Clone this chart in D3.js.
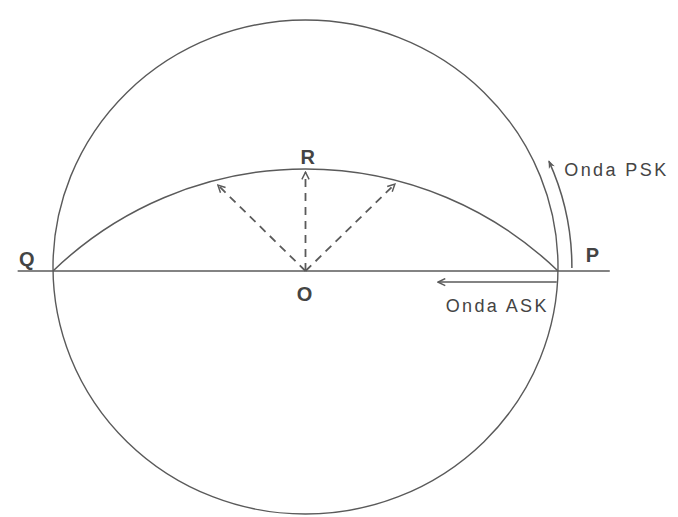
<!DOCTYPE html>
<html><head><meta charset="utf-8">
<script src="https://cdn.jsdelivr.net/npm/d3@7"></script>
<style>
html,body{margin:0;padding:0;background:#fff;}
svg{display:block;}
</style></head>
<body><svg id="c" width="678" height="517"></svg>
<script>
// Diagram data, in units of the circle radius (O at the origin)
const pointNames = ["Q", "R", "P", "O"];
const pointX = [-1, 0, 1, 0];
const pointY = [0, 0.413, 0, 0];
const circleCenter = [0, 0.016];
const circleRadius = 1;
const baseLine = [-1.14, 1.205];           // horizontal axis extent (x)
const vectorTipsX = [-0.347, 0, 0.354];    // dashed phasor tips
const vectorTipsY = [0.348, 0.40, 0.352];
const pskArc = { r: 1.055, startY: 0.012, endY: 0.445 };
const askArrow = { x0: 0.995, x1: 0.525, y: -0.045 };
const labelText = ["Q", "P", "R", "O", "Onda PSK", "Onda ASK"];
const labelX = [-1.135, 1.11, -0.02, -0.035, 1.025, 0.555];
const labelY = [0.02, 0.035, 0.435, -0.12, 0.385, -0.168];

const W = 678, H = 517;
const x = d3.scaleLinear().domain([-1, 1]).range([53, 558]);
const y = d3.scaleLinear().domain([-1, 1]).range([271 + 247, 271 - 247]);
const kx = x(1) - x(0), ky = y(0) - y(1);

const svg = d3.select("#c");
const ink = "#5a5a5a";

const defs = svg.append("defs");
defs.append("marker").attr("id", "open").attr("viewBox", "0 0 10 10")
  .attr("refX", 9).attr("refY", 5).attr("markerWidth", 9).attr("markerHeight", 9)
  .attr("markerUnits", "userSpaceOnUse").attr("orient", "auto")
  .append("path").attr("d", "M1,1 L9,5 L1,9").attr("fill", "none")
  .attr("stroke", ink).attr("stroke-width", 1.6);
defs.append("marker").attr("id", "filled").attr("viewBox", "0 0 10 10")
  .attr("refX", 9).attr("refY", 5).attr("markerWidth", 10).attr("markerHeight", 8)
  .attr("markerUnits", "userSpaceOnUse").attr("orient", "auto")
  .append("path").attr("d", "M0,1 L10,5 L0,9 L3,5 Z").attr("fill", ink);

// main circle (slightly elliptical in the reference scan)
svg.append("ellipse")
  .attr("cx", x(circleCenter[0])).attr("cy", y(circleCenter[1]))
  .attr("rx", kx * circleRadius).attr("ry", ky * circleRadius)
  .attr("fill", "none").attr("stroke", ink).attr("stroke-width", 1.4);

// horizontal axis
svg.append("line")
  .attr("x1", x(baseLine[0])).attr("x2", x(baseLine[1]))
  .attr("y1", y(0)).attr("y2", y(0))
  .attr("stroke", ink).attr("stroke-width", 1.6);

// arc Q - R - P (circle through three points)
const pts = pointNames.map((n, i) => ({ n, px: x(pointX[i]), py: y(pointY[i]) }));
const Q = pts[0], R = pts[1], P = pts[2];
const half = (P.px - Q.px) / 2, sag = Q.py - R.py;
const rad = (half * half + sag * sag) / (2 * sag);
svg.append("path")
  .attr("d", `M${Q.px},${Q.py} A${rad},${rad} 0 0 1 ${P.px},${P.py}`)
  .attr("fill", "none").attr("stroke", ink).attr("stroke-width", 1.5);

// dashed phasor arrows
svg.selectAll(".vec").data(vectorTipsX).join("line")
  .attr("x1", x(0)).attr("y1", y(0))
  .attr("x2", d => x(d)).attr("y2", (d, i) => y(vectorTipsY[i]))
  .attr("stroke", ink).attr("stroke-width", 1.8)
  .attr("stroke-dasharray", "8,6")
  .attr("marker-end", "url(#open)");

// PSK arc arrow (concentric with the circle)
const cx0 = x(circleCenter[0]), cy0 = y(circleCenter[1]);
const prx = kx * pskArc.r, pry = ky * pskArc.r;
function onArc(yy) {
  const py = y(yy);
  const t = (cy0 - py) / pry;
  return [cx0 + prx * Math.sqrt(1 - t * t), py];
}
const a0 = onArc(pskArc.startY), a1 = onArc(pskArc.endY);
svg.append("path")
  .attr("d", `M${a0[0]},${a0[1]} A${prx},${pry} 0 0 0 ${a1[0]},${a1[1]}`)
  .attr("fill", "none").attr("stroke", ink).attr("stroke-width", 1.5)
  .attr("marker-end", "url(#filled)");

// ASK arrow
svg.append("line")
  .attr("x1", x(askArrow.x0)).attr("x2", x(askArrow.x1))
  .attr("y1", y(askArrow.y)).attr("y2", y(askArrow.y))
  .attr("stroke", ink).attr("stroke-width", 1.5)
  .attr("marker-end", "url(#open)");

// labels
svg.selectAll(".lbl").data(labelText).join("text")
  .attr("x", (d, i) => x(labelX[i])).attr("y", (d, i) => y(labelY[i]))
  .attr("fill", "#444")
  .attr("font-family", "'Liberation Sans', Arial, sans-serif")
  .attr("font-size", d => d.length > 1 ? 18 : 20)
  .attr("font-weight", d => d.length > 1 ? "normal" : "bold")
  .attr("letter-spacing", d => d.length > 1 ? 2.4 : 0)
  .text(d => d);
</script></body></html>
